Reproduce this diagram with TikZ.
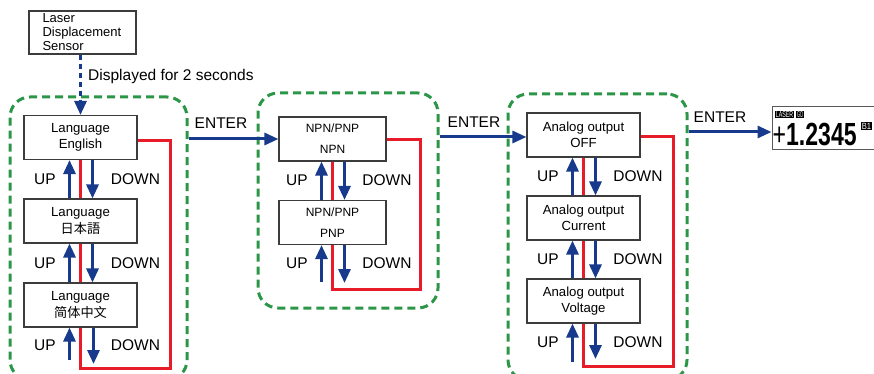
\documentclass[tikz,border=0pt]{standalone}
\usepackage{fontspec}
\usepackage{graphicx}
\setmainfont{Liberation Sans}
\newfontfamily\jpfont{Noto Sans CJK JP}
\newfontfamily\scfont{Noto Sans CJK SC}
\usetikzlibrary{arrows.meta,backgrounds}
\definecolor{myblue}{RGB}{24,58,140}
\definecolor{myred}{RGB}{232,28,40}
\definecolor{mygreen}{RGB}{44,150,72}
\definecolor{boxgray}{RGB}{60,60,60}
\tikzset{
  menubox/.style={draw=boxgray, line width=1.1pt, fill=white, minimum height=44pt,
    inner sep=0pt, align=center, font=\fontsize{13.2}{16.5}\selectfont},
  group/.style={draw=mygreen, line width=3pt, dash pattern=on 8pt off 5pt,
    rounded corners=20pt, inner sep=0pt},
  bluearrow/.style={draw=myblue, line width=3pt, -{Triangle[width=12pt,length=14pt]}},
  redloop/.style={draw=myred, line width=3pt},
  lbl/.style={font=\fontsize{15.5}{18}\selectfont, inner sep=0pt},
  tag/.style={fill=black, text=white, inner sep=0.7pt},
}
\begin{document}
\begin{tikzpicture}[x=1pt,y=-1pt]
\clip (0,0) rectangle (874,374);

% green groups
\node[group, minimum width=177pt, minimum height=283pt] (G1) at (98.5,238.5) {};
\node[group, minimum width=180pt, minimum height=215pt] (G2) at (348,200.5) {};
\node[group, minimum width=179pt, minimum height=286pt] (G3) at (597.5,237) {};

% sensor box
\node[draw=boxgray, line width=1.1pt, minimum width=107pt, minimum height=43pt,
  text width=80pt, inner xsep=13.5pt, inner ysep=0pt, align=left,
  font=\fontsize{13}{14}\selectfont] (S) at (82.5,32.5) {Laser\\Displacement\\Sensor};

% group 1 boxes
\node[menubox, minimum width=113pt] (L1) at (80.5,137.5) {Language\\English};
\node[menubox, minimum width=113pt] (L2) at (80.5,221) {Language\\{\jpfont 日本語}};
\node[menubox, minimum width=113pt] (L3) at (80.5,305) {Language\\{\scfont 简体中文}};

% group 2 boxes
\node[menubox, minimum width=107pt, font=\fontsize{12}{21}\selectfont] (N1) at (332.5,139) {NPN/PNP\\NPN};
\node[menubox, minimum width=107pt, font=\fontsize{12}{21}\selectfont] (N2) at (332.5,222.5) {NPN/PNP\\PNP};

% group 3 boxes
\node[menubox, minimum width=113pt] (A1) at (583.5,135) {Analog output\\OFF};
\node[menubox, minimum width=113pt] (A2) at (583.5,218) {Analog output\\Current};
\node[menubox, minimum width=113pt] (A3) at (583.5,301) {Analog output\\Voltage};

% display
\node[draw=black!65, line width=1pt, minimum width=110pt, minimum height=43pt, inner sep=0pt] (D) at (827,128.5) {};
\node[tag, font=\fontsize{8.5}{8.5}\selectfont] (tLaser) at (784.5,114.5) {\scalebox{0.62}[1]{LASER}};
\node[tag, font=\fontsize{8.5}{8.5}\selectfont] (tGo) at (800,114.5) {\scalebox{0.45}[1]{GO}};
\node[anchor=base west, inner sep=0pt, font=\fontsize{32}{32}\selectfont\bfseries] (num) at (772.5,145.5)
  {\scalebox{0.72}[1]{{\mdseries+}1.2345}};
\node[tag, font=\fontsize{9}{9}\selectfont] (tB) at (866.5,126) {\scalebox{0.85}[1]{B1}};

% red loops (behind boxes)
\begin{scope}[on background layer]
\coordinate (R1) at (170,368);
\coordinate (R2) at (420,289);
\coordinate (R3) at (673,366);
\draw[redloop] ([yshift=-3.5pt]L1.east) -| (R1) -| (L1.south);
\draw[redloop] ([yshift=-1pt]N1.east) -| (R2) -| (N1.south);
\draw[redloop] ([yshift=-2pt]A1.east) -| (R3) -| (A1.south);
\end{scope}

% dotted start arrow
\draw[bluearrow, dash pattern=on 5pt off 4pt] (S.south -| L1.north) -- (L1.north);
\node[lbl, anchor=west] (disp) at (88,76) {Displayed for 2 seconds};

% ENTER arrows
\draw[bluearrow] (G1.east |- N1.west) -- (N1.west);
\draw[bluearrow] ([yshift=-2pt]G2.east |- A1.west) -- ([yshift=-2pt]A1.west);
\draw[bluearrow] ([yshift=-3.5pt]G3.east |- D.west) -- ([yshift=-3.5pt]D.west);
\node[lbl] (e1) at (221,123) {ENTER};
\node[lbl] (e2) at (474,122) {ENTER};
\node[lbl] (e3) at (720,117) {ENTER};

% UP/DOWN group 1
\coordinate (u1) at (69.5,360);
\coordinate (d1) at (93.5,364);
\draw[bluearrow] ([xshift=-11pt]L2.north) -- ([xshift=-11pt]L1.south);
\draw[bluearrow] ([xshift=12pt]L1.south) -- ([xshift=12pt]L2.north);
\draw[bluearrow] ([xshift=-11pt]L3.north) -- ([xshift=-11pt]L2.south);
\draw[bluearrow] ([xshift=12pt]L2.south) -- ([xshift=12pt]L3.north);
\draw[bluearrow] (u1) -- (u1 |- L3.south);
\draw[bluearrow] (d1 |- L3.south) -- (d1);
\node[lbl] (up1) at (45,179.5) {UP};
\node[lbl] (dn1) at (135.5,179.5) {DOWN};
\node[lbl] (up2) at (45,263) {UP};
\node[lbl] (dn2) at (135.5,263) {DOWN};
\node[lbl] (up3) at (45,345) {UP};
\node[lbl] (dn3) at (135.5,345) {DOWN};

% UP/DOWN group 2
\coordinate (u2) at (321.5,282);
\coordinate (d2) at (344.5,283);
\draw[bluearrow] ([xshift=-11pt]N2.north) -- ([xshift=-11pt]N1.south);
\draw[bluearrow] ([xshift=12pt]N1.south) -- ([xshift=12pt]N2.north);
\draw[bluearrow] (u2) -- (u2 |- N2.south);
\draw[bluearrow] (d2 |- N2.south) -- (d2);
\node[lbl] (up4) at (297,180) {UP};
\node[lbl] (dn4) at (387,180) {DOWN};
\node[lbl] (up5) at (297,263) {UP};
\node[lbl] (dn5) at (387,263) {DOWN};

% UP/DOWN group 3
\coordinate (u3) at (572.5,362);
\coordinate (d3) at (595.5,359);
\draw[bluearrow] ([xshift=-11pt]A2.north) -- ([xshift=-11pt]A1.south);
\draw[bluearrow] ([xshift=12pt]A1.south) -- ([xshift=12pt]A2.north);
\draw[bluearrow] ([xshift=-11pt]A3.north) -- ([xshift=-11pt]A2.south);
\draw[bluearrow] ([xshift=12pt]A2.south) -- ([xshift=12pt]A3.north);
\draw[bluearrow] (u3) -- (u3 |- A3.south);
\draw[bluearrow] (d3 |- A3.south) -- (d3);
\node[lbl] (up6) at (548,176) {UP};
\node[lbl] (dn6) at (638,176) {DOWN};
\node[lbl] (up7) at (548,259) {UP};
\node[lbl] (dn7) at (638,259) {DOWN};
\node[lbl] (up8) at (548,342) {UP};
\node[lbl] (dn8) at (638,342) {DOWN};
\end{tikzpicture}
\end{document}
